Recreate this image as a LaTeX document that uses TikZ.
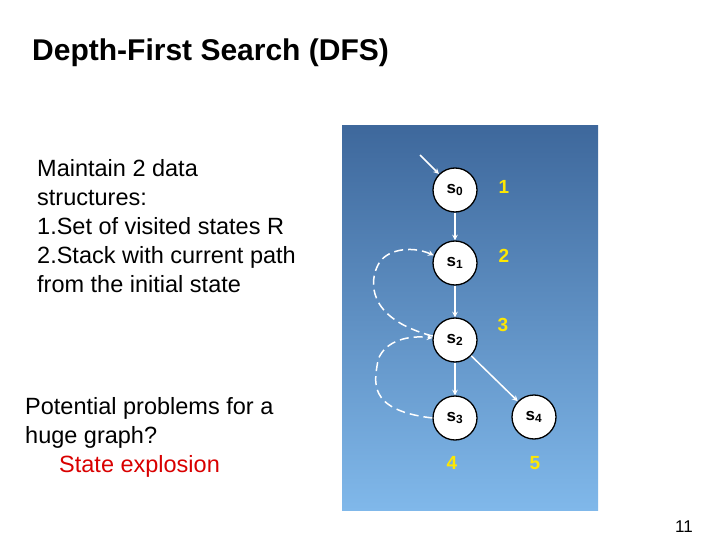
\documentclass[tikz,border=0pt]{standalone}
\usepackage{fontspec}
\setmainfont{Liberation Sans}
\begin{document}
\begin{tikzpicture}[x=1pt,y=-1pt,
  st/.style={circle,draw=black,line width=1.3pt,fill=white,minimum size=44pt,inner sep=0pt,font=\bfseries\fontsize{17}{17}\selectfont},
  num/.style={text=yellow!90!orange,font=\bfseries\fontsize{19}{19}\selectfont},
  txt/.style={anchor=west,align=left,font=\fontsize{23.5}{29}\selectfont},
  ar/.style={->,>=stealth,white,line width=1.5pt},
  bk/.style={->,>=stealth,white,line width=1.5pt,dash pattern=on 9pt off 5pt}]
\useasboundingbox (0,0) rectangle (720,540);
\fill[white] (0,0) rectangle (720,540);
\shade[top color={rgb,255:red,62;green,104;blue,156},bottom color={rgb,255:red,128;green,184;blue,234}] (342,126) rectangle (598,510);
\node[anchor=west,inner sep=0pt,font=\bfseries\fontsize{30}{30}\selectfont] (title) at (32,53) {Depth-First Search (DFS)};
\node[txt,inner sep=0pt] (t1) at (37,226) {Maintain 2 data\\structures:\\1.Set of visited states R\\2.Stack with current path\\from the initial state};
\node[txt,inner sep=0pt] (t2) at (25,437) {Potential problems for a\\huge graph?\\\hspace*{34pt}\textcolor{red!85!black}{State explosion}};
\node[font=\fontsize{17}{17}\selectfont] (pg) at (684,527) {11};
\node[st] (s0) at (455,190) {s\textsubscript{0}};
\node[st] (s1) at (455,263) {s\textsubscript{1}};
\node[st] (s2) at (455,340) {s\textsubscript{2}};
\node[st] (s3) at (455,418) {s\textsubscript{3}};
\node[st] (s4) at (534,417) {s\textsubscript{4}};
\node[num] (n1) at (504,187) {1};
\node[num] (n2) at (504,256) {2};
\node[num] (n3) at (503,325) {3};
\node[num] (n4) at (452,463) {4};
\node[num] (n5) at (535,463) {5};
\coordinate (in) at (420,155);
\draw[ar] (in) -- (s0);
\draw[ar] (s0) -- (s1);
\draw[ar] (s1) -- (s2);
\draw[ar] (s2) -- (s3);
\draw[ar] (s2) -- (s4);
\draw[bk] (s2.170) .. controls (365,318) and (370,280) .. (378,265) .. controls (385,250) and (410,245) .. (s1.160);
\draw[bk] (s3.180) .. controls (365,410) and (375,380) .. (378,360) .. controls (385,340) and (410,335) .. (s2.175);
\end{tikzpicture}
\end{document}
